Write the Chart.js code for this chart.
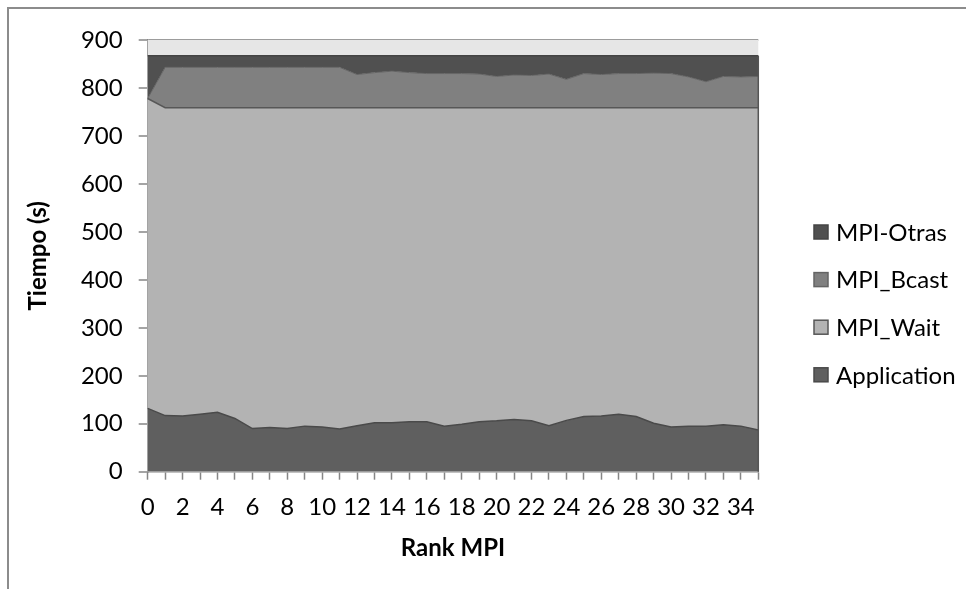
<!DOCTYPE html>
<html>
<head>
<meta charset="utf-8">
<script src="https://cdn.jsdelivr.net/npm/chart.js@4.4.1/dist/chart.umd.min.js"></script>
<style>
  html, body { margin: 0; padding: 0; background: #ffffff; }
  #wrap { position: relative; width: 974px; height: 589px; }
  canvas { display: block; }
</style>
</head>
<body>
<div id="wrap"><canvas id="chart" width="974" height="589"></canvas></div>
<script>
// MPI rank of each process
const ranks = [0, 1, 2, 3, 4, 5, 6, 7, 8, 9, 10, 11, 12, 13, 14, 15, 16, 17,
               18, 19, 20, 21, 22, 23, 24, 25, 26, 27, 28, 29, 30, 31, 32, 33, 34, 35];

// Time per rank (seconds), split by activity
const application = [132, 117, 116, 120, 124, 111, 90, 92, 90, 95, 93, 89, 96, 102, 102, 104, 104, 95,
                     99, 104, 106, 109, 106, 96, 107, 115, 116, 120, 115, 101, 93, 95, 95, 98, 95, 87];
const mpiWait     = [646, 642, 643, 639, 635, 648, 669, 667, 669, 664, 666, 670, 663, 657, 657, 655, 655, 664,
                     660, 655, 653, 650, 653, 663, 652, 644, 643, 639, 644, 658, 666, 664, 664, 661, 664, 672];
const mpiBcast    = [0, 84, 84, 84, 84, 84, 84, 84, 84, 84, 84, 84, 69, 73, 76, 73, 71, 71,
                     71, 70, 65, 68, 67, 70, 59, 71, 69, 71, 71, 72, 71, 64, 54, 65, 64, 65];
const mpiOtras    = [89, 24, 24, 24, 24, 24, 24, 24, 24, 24, 24, 24, 39, 35, 32, 35, 37, 37,
                     37, 38, 43, 40, 41, 38, 49, 37, 39, 37, 37, 36, 37, 44, 54, 43, 44, 43];

const seriesNames = ['Application', 'MPI_Wait', 'MPI_Bcast', 'MPI-Otras'];
const yMin = 0, yMax = 900, yStep = 100;

const FONT = 'Lato, "Open Sans", sans-serif';
const FONT_SIZE = 24;
const AXIS_GREY = '#868686';

// Outer frame of the chart object
const framePlugin = {
  id: 'frame',
  beforeDraw(chart) {
    const ctx = chart.ctx;
    ctx.save();
    ctx.strokeStyle = '#8c8c8c';
    ctx.lineWidth = 2;
    ctx.beginPath();
    ctx.moveTo(8, 589);
    ctx.lineTo(8, 8);
    ctx.lineTo(966, 8);
    ctx.stroke();
    ctx.restore();
  }
};

// Light plot-area background, seen above the stacked areas
const plotBgPlugin = {
  id: 'plotBg',
  beforeDatasetsDraw(chart) {
    const {ctx, chartArea: a} = chart;
    ctx.save();
    ctx.fillStyle = '#e6e6e6';
    ctx.fillRect(a.left, a.top, a.right - a.left, a.bottom - a.top);
    ctx.restore();
  }
};

// Closing edge of the stacked areas on the last rank
const areaEdgePlugin = {
  id: 'areaEdge',
  afterDatasetsDraw(chart) {
    const {ctx, scales: {x, y}} = chart;
    const last = ranks.length - 1;
    const total = application[last] + mpiWait[last] + mpiBcast[last] + mpiOtras[last];
    const px = x.getPixelForValue(last);
    ctx.save();
    ctx.strokeStyle = '#555555';
    ctx.lineWidth = 1.5;
    ctx.beginPath();
    ctx.moveTo(px, y.getPixelForValue(total));
    ctx.lineTo(px, y.getPixelForValue(0));
    ctx.stroke();
    ctx.restore();
  }
};

// Legend on the right, listed from the top series down
const legendPlugin = {
  id: 'sideLegend',
  afterDraw(chart) {
    const ctx = chart.ctx;
    const items = chart.data.datasets.map((d) => ({label: d.label, fill: d.backgroundColor, stroke: d.borderColor})).reverse();
    const boxX = 814, textX = 836, firstY = 232, gap = 47.6, box = 14;
    ctx.save();
    ctx.font = FONT_SIZE + 'px ' + FONT;
    ctx.textBaseline = 'middle';
    ctx.textAlign = 'left';
    items.forEach((it, k) => {
      const cy = firstY + k * gap;
      ctx.fillStyle = it.fill;
      ctx.fillRect(boxX, cy - box / 2, box, box);
      ctx.strokeStyle = it.stroke;
      ctx.lineWidth = 1.5;
      ctx.strokeRect(boxX, cy - box / 2, box, box);
      ctx.fillStyle = '#000000';
      ctx.fillText(it.label, textX, cy + 1);
    });
    ctx.restore();
  }
};

const palette = {
  fill:   ['#5f5f5f', '#b3b3b3', '#808080', '#505050'],
  border: ['#4a4a4a', '#575757', '#646464', '#444444']
};
const values = [application, mpiWait, mpiBcast, mpiOtras];

new Chart(document.getElementById('chart'), {
  type: 'line',
  data: {
    labels: ranks,
    datasets: values.map((v, i) => ({
      label: seriesNames[i],
      data: v,
      backgroundColor: palette.fill[i],
      borderColor: palette.border[i],
      borderWidth: i === 2 ? 1 : 1.5,
      pointRadius: 0,
      pointHoverRadius: 0,
      tension: 0,
      fill: i === 0 ? 'origin' : '-1'
    }))
  },
  options: {
    responsive: false,
    animation: false,
    devicePixelRatio: 1,
    layout: { padding: { top: 40, right: 215.7, bottom: 0, left: 10 } },
    plugins: {
      legend: { display: false },
      tooltip: { enabled: false }
    },
    scales: {
      x: {
        type: 'category',
        offset: false,
        title: {
          display: true,
          text: 'Rank MPI',
          color: '#000000',
          font: { family: FONT, size: FONT_SIZE, weight: 'bold' },
          padding: { top: 0, bottom: 26.6 }
        },
        ticks: {
          autoSkip: false,
          maxRotation: 0,
          color: '#000000',
          font: { family: FONT, size: FONT_SIZE },
          padding: 13,
          callback: function (val, idx) { return idx % 2 === 0 ? this.getLabelForValue(val) : ''; }
        },
        grid: { drawOnChartArea: false, tickLength: 8, tickColor: AXIS_GREY, tickWidth: 1.5 },
        border: { color: AXIS_GREY, width: 1.5 },
        afterFit(scale) { scale.height = 117.3; }
      },
      y: {
        stacked: true,
        min: yMin,
        max: yMax,
        title: {
          display: true,
          text: 'Tiempo (s)',
          color: '#000000',
          font: { family: FONT, size: FONT_SIZE, weight: 'bold' },
          padding: { top: 13.6, bottom: 0 }
        },
        ticks: {
          stepSize: yStep,
          color: '#000000',
          font: { family: FONT, size: FONT_SIZE },
          padding: 16
        },
        grid: {
          drawOnChartArea: true,
          tickLength: 9,
          tickColor: AXIS_GREY,
          tickWidth: 1.5,
          lineWidth: 2,
          color: (c) => (c.tick && c.tick.value === yMax ? '#9c9c9c' : 'rgba(0,0,0,0)')
        },
        border: { color: AXIS_GREY, width: 1.5 },
        afterFit(scale) { scale.width = 137.7; }
      }
    }
  },
  plugins: [framePlugin, plotBgPlugin, areaEdgePlugin, legendPlugin]
});
</script>
</body>
</html>
